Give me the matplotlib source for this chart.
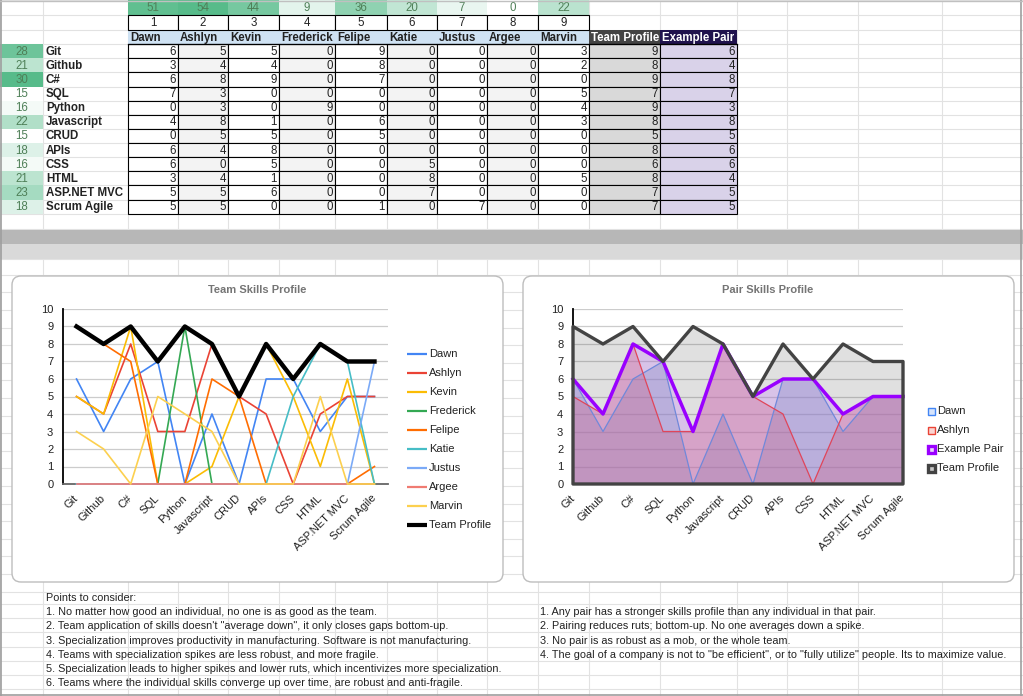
import numpy as np
import matplotlib
matplotlib.use('Agg')
import matplotlib.pyplot as plt
from matplotlib.patches import Rectangle, FancyBboxPatch
from matplotlib.colors import LinearSegmentedColormap, Normalize

plt.rcParams['font.family'] = ['Liberation Sans', 'DejaVu Sans']

# ---------------- data ----------------
skills = ['Git', 'Github', 'C#', 'SQL', 'Python', 'Javascript', 'CRUD', 'APIs',
          'CSS', 'HTML', 'ASP.NET MVC', 'Scrum Agile']
people = ['Dawn', 'Ashlyn', 'Kevin', 'Frederick', 'Felipe', 'Katie', 'Justus', 'Argee', 'Marvin']
person_numbers = [1, 2, 3, 4, 5, 6, 7, 8, 9]
person_totals = [51, 54, 44, 9, 36, 20, 7, 0, 22]
skill_totals = [28, 21, 30, 15, 16, 22, 15, 18, 16, 21, 23, 18]

dawn = [6, 3, 6, 7, 0, 4, 0, 6, 6, 3, 5, 5]
ashlyn = [5, 4, 8, 3, 3, 8, 5, 4, 0, 4, 5, 5]
kevin = [5, 4, 9, 0, 0, 1, 5, 8, 5, 1, 6, 0]
frederick = [0, 0, 0, 0, 9, 0, 0, 0, 0, 0, 0, 0]
felipe = [9, 8, 7, 0, 0, 6, 5, 0, 0, 0, 0, 1]
katie = [0, 0, 0, 0, 0, 0, 0, 0, 5, 8, 7, 0]
justus = [0, 0, 0, 0, 0, 0, 0, 0, 0, 0, 0, 7]
argee = [0, 0, 0, 0, 0, 0, 0, 0, 0, 0, 0, 0]
marvin = [3, 2, 0, 5, 4, 3, 0, 0, 0, 5, 0, 0]
team_profile = [9, 8, 9, 7, 9, 8, 5, 8, 6, 8, 7, 7]
example_pair = [6, 4, 8, 7, 3, 8, 5, 6, 6, 4, 5, 5]

notes_left = [
    'Points to consider:',
    '1. No matter how good an individual, no one is as good as the team.',
    '2. Team application of skills doesn\'t "average down", it only closes gaps bottom-up.',
    '3. Specialization improves productivity in manufacturing. Software is not manufacturing.',
    '4. Teams with specialization spikes are less robust, and more fragile.',
    '5. Specialization leads to higher spikes and lower ruts, which incentivizes more specialization.',
    '6. Teams where the individual skills converge up over time, are robust and anti-fragile.',
]
notes_right = [
    '1. Any pair has a stronger skills profile than any individual in that pair.',
    '2. Pairing reduces ruts; bottom-up. No one averages down a spike.',
    '3. No pair is as robust as a mob, or the whole team.',
    '4. The goal of a company is not to "be efficient", or to "fully utilize" people. Its to maximize value.',
]

series = [dawn, ashlyn, kevin, frederick, felipe, katie, justus, argee, marvin]
series_colors = ['#4285F4', '#EA4335', '#FBBC04', '#34A853', '#FF6D01',
                 '#46BDC6', '#7BAAF7', '#F07B72', '#FCD04F']

# ---------------- canvas ----------------
W, H = 1023, 696
fig = plt.figure(figsize=(W / 100, H / 100), dpi=100)
bg = fig.add_axes([0, 0, 1, 1])
bg.set_xlim(0, W)
bg.set_ylim(H, 0)
bg.axis('off')


def ax_rect(x0, x1, y0, y1):
    return [x0 / W, 1 - y1 / H, (x1 - x0) / W, (y1 - y0) / H]


grid_c = '#E2E2E2'
col_edges = [0, 43, 128, 178, 228, 279, 335, 387, 437, 487, 538, 589, 660, 737, 787, 858, 942, 1023]
row_edges = [0, 15, 30, 44.2] + [44.2 + 14.12 * (k + 1) for k in range(12)]
row_edges_ext = row_edges + [229]
lower_edges = [259, 275] + [292.4 + 17.6 * k for k in range(18)] + [604 + 14.2 * k for k in range(7)]

# spreadsheet grid, upper part
for xx in col_edges:
    bg.plot([xx, xx], [0, 230], color=grid_c, lw=0.8, zorder=1)
for y in row_edges_ext:
    bg.plot([0, W], [y, y], color=grid_c, lw=0.8, zorder=1)
# lower part
for xx in col_edges:
    bg.plot([xx, xx], [259, H], color=grid_c, lw=0.8, zorder=1)
for y in lower_edges:
    bg.plot([0, W], [y, y], color=grid_c, lw=0.8, zorder=1)

# frozen-row divider
bg.add_patch(Rectangle((0, 230), W, 14, facecolor='#B7B7B7', edgecolor='none', zorder=2))
bg.add_patch(Rectangle((0, 244), W, 15, facecolor='#D9D9D9', edgecolor='none', zorder=2))

# ---------------- table ----------------
green = LinearSegmentedColormap.from_list('g', ['#FFFFFF', '#57BB8A'])
norm_p = Normalize(min(person_totals), max(person_totals))
norm_s = Normalize(min(skill_totals), max(skill_totals))
tfs = 8.3
total_c = '#4E7F57'
txt_c = '#222222'

pcols = list(range(2, 2 + len(people)))  # column index in col_edges
tp_col, ep_col = 11, 12

# row 1: person totals
for j, c in enumerate(pcols):
    x0, x1 = col_edges[c], col_edges[c + 1]
    bg.add_patch(Rectangle((x0, row_edges[0]), x1 - x0, row_edges[1] - row_edges[0],
                           facecolor=green(norm_p(person_totals[j])), edgecolor='none', zorder=3))
    bg.text((x0 + x1) / 2, (row_edges[0] + row_edges[1]) / 2 + 0.5, str(person_totals[j]),
            ha='center', va='center', fontsize=tfs, color=total_c, zorder=5)
# row 2: person numbers
for j, c in enumerate(pcols):
    x0, x1 = col_edges[c], col_edges[c + 1]
    bg.add_patch(Rectangle((x0, row_edges[1]), x1 - x0, row_edges[2] - row_edges[1],
                           facecolor='white', edgecolor='black', lw=0.8, zorder=4))
    bg.text((x0 + x1) / 2, (row_edges[1] + row_edges[2]) / 2 + 0.5, str(person_numbers[j]),
            ha='center', va='center', fontsize=tfs, color=txt_c, zorder=5)
# row 3: header names
hy0, hy1 = row_edges[2], row_edges[3]
headers = people + ['Team Profile', 'Example Pair']
hcols = pcols + [tp_col, ep_col]
hbg = ['#CFE2F3'] * len(people) + ['#434343', '#20124D']
hfc = [txt_c] * len(people) + ['white', 'white']
for name, c, b, f in zip(headers, hcols, hbg, hfc):
    x0, x1 = col_edges[c], col_edges[c + 1]
    bg.add_patch(Rectangle((x0, hy0), x1 - x0, hy1 - hy0, facecolor=b, edgecolor='none', zorder=3))
    bg.text(x0 + 2, (hy0 + hy1) / 2 + 0.5, name, ha='left', va='center', fontsize=tfs,
            fontweight='bold', color=f, zorder=5)
bg.plot([col_edges[2], col_edges[13]], [hy1, hy1], color='black', lw=0.9, zorder=4)

# data rows
data_cols = series + [team_profile, example_pair]
dcols = pcols + [tp_col, ep_col]
dbg = ['white', '#F3F3F3', 'white', '#F3F3F3', 'white', '#F3F3F3', 'white', '#F3F3F3', 'white',
       '#D9D9D9', '#D9D2E9']
for i, sk in enumerate(skills):
    y0, y1 = row_edges[3 + i], row_edges[4 + i]
    yc = (y0 + y1) / 2 + 0.5
    bg.add_patch(Rectangle((0, y0), 43, y1 - y0, facecolor=green(norm_s(skill_totals[i])),
                           edgecolor='none', zorder=3))
    bg.text(21.5, yc, str(skill_totals[i]), ha='center', va='center', fontsize=tfs,
            color=total_c, zorder=5)
    bg.text(46, yc, sk, ha='left', va='center', fontsize=tfs, fontweight='bold',
            color=txt_c, zorder=5)
    for vals, c, b in zip(data_cols, dcols, dbg):
        x0, x1 = col_edges[c], col_edges[c + 1]
        bg.add_patch(Rectangle((x0, y0), x1 - x0, y1 - y0, facecolor=b, edgecolor='black',
                               lw=0.8, zorder=3.5))
        bg.text(x1 - 2, yc, str(vals[i]), ha='right', va='center', fontsize=tfs,
                color=txt_c, zorder=5)

# ---------------- chart boxes ----------------
for bx in (12, 523):
    bg.add_patch(FancyBboxPatch((bx, 276), 491, 306, boxstyle='round,pad=0,rounding_size=9',
                                facecolor='white', edgecolor='#BDBDBD', lw=1.0, zorder=6))
bg.text(257, 290, 'Team Skills Profile', ha='center', va='center', fontsize=8,
        fontweight='bold', color='#757575', zorder=7)
bg.text(768, 290, 'Pair Skills Profile', ha='center', va='center', fontsize=8,
        fontweight='bold', color='#757575', zorder=7)

x = np.arange(len(skills))
lab_fs = 8
lab_c = '#222222'


def style_axis(ax):
    ax.set_ylim(0, 10)
    ax.set_yticks(range(11))
    ax.set_xticks(x)
    ax.set_facecolor('none')
    for v in range(11):
        ax.axhline(v, color='#CCCCCC', lw=0.9, zorder=0)
    for s in ('top', 'right'):
        ax.spines[s].set_visible(False)
    ax.spines['left'].set_color('black')
    ax.spines['left'].set_linewidth(1.3)
    ax.spines['bottom'].set_color('#666666')
    ax.spines['bottom'].set_linewidth(1.3)
    ax.tick_params(axis='y', length=0, pad=7, labelsize=lab_fs, labelcolor=lab_c)
    ax.tick_params(axis='x', length=0, pad=9, labelsize=lab_fs, labelcolor=lab_c)
    ax.set_xticklabels(skills, rotation=45, ha='right', va='center', rotation_mode='anchor')


# ---------------- left chart ----------------
ax1 = fig.add_axes(ax_rect(63, 388, 309, 484))
ax1.set_xlim(-0.5, len(skills) - 0.5)
style_axis(ax1)
for vals, col in zip(series, series_colors):
    ax1.plot(x, vals, color=col, lw=1.2, zorder=3, clip_on=False)
ax1.plot(x, team_profile, color='black', lw=3.2, zorder=4, clip_on=False)

legend_names = people + ['Team Profile']
legend_cols = series_colors + ['black']
for k, (nm, col) in enumerate(zip(legend_names, legend_cols)):
    yy = 354 + 19 * k
    bg.plot([407, 427], [yy, yy], color=col, lw=3.0 if nm == 'Team Profile' else 1.6,
            zorder=7, solid_capstyle='butt')
    bg.text(429, yy, nm, ha='left', va='center', fontsize=lab_fs, color=lab_c, zorder=7)

# ---------------- right chart ----------------
ax2 = fig.add_axes(ax_rect(573, 903, 309, 484))
ax2.set_xlim(0, len(skills) - 1)
style_axis(ax2)
ax2.fill_between(x, 0, team_profile, facecolor=(0x43 / 255, 0x43 / 255, 0x43 / 255, 0.16),
                 edgecolor='none', zorder=1)
ax2.fill_between(x, 0, example_pair, facecolor=(198 / 255, 128 / 255, 252 / 255, 0.30),
                 edgecolor='none', zorder=2)
ax2.fill_between(x, 0, dawn, facecolor=(117 / 255, 129 / 255, 193 / 255, 0.30),
                 edgecolor='none', zorder=2.5)
ax2.fill_between(x, 0, ashlyn, facecolor=(210 / 255, 89 / 255, 126 / 255, 0.30),
                 edgecolor='none', zorder=2.6)
ax2.plot(x, dawn, color='#7088DA', lw=0.9, zorder=4, clip_on=False)
ax2.plot(x, ashlyn, color='#E0455A', lw=0.9, zorder=4.1, clip_on=False)
ax2.plot(x, example_pair, color='#9900FF', lw=2.5, zorder=5, clip_on=False)
ax2.fill_between(x, 0, team_profile, facecolor='none', edgecolor='#434343', lw=2.4,
                 zorder=6, clip_on=False)

leg2 = [('Dawn', '#D6E4FC', '#4285F4', 1.0),
        ('Ashlyn', '#FAD4D1', '#EA4335', 1.0),
        ('Example Pair', '#E9D4FA', '#9900FF', 2.4),
        ('Team Profile', '#C8C8C8', '#434343', 2.4)]
for k, (nm, fc, ec, lw) in enumerate(leg2):
    yy = 411 + 19 * k
    bg.add_patch(Rectangle((927.5, yy - 3.5), 7, 7, facecolor=fc, edgecolor=ec, lw=lw, zorder=7))
    bg.text(937, yy, nm, ha='left', va='center', fontsize=lab_fs, color=lab_c, zorder=7)

# ---------------- notes ----------------
note_fs = 7.8
for k, t in enumerate(notes_left):
    bg.text(46, 598 + 14.2 * k, t, ha='left', va='center', fontsize=note_fs, color=txt_c, zorder=5)
for k, t in enumerate(notes_right):
    bg.text(540, 612.2 + 14.2 * k, t, ha='left', va='center', fontsize=note_fs, color=txt_c, zorder=5)

# outer frame of the screenshot
frame_c = '#9E9E9E'
bg.plot([1, 1], [0, H], color=frame_c, lw=1.2, zorder=8)
bg.plot([1020.5, 1020.5], [0, H], color=frame_c, lw=1.2, zorder=8)
bg.plot([0, W], [694.5, 694.5], color=frame_c, lw=1.2, zorder=8)
bg.plot([0, W], [0.5, 0.5], color='#C0C0C0', lw=1.0, zorder=8)

fig.savefig('out.png', dpi=100)
